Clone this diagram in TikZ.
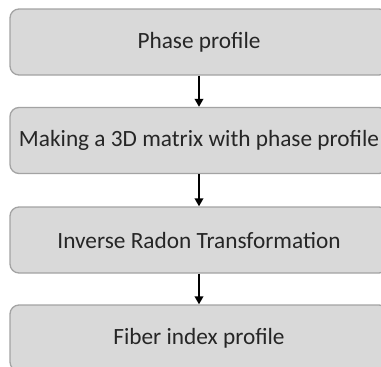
\documentclass[tikz,border=0pt]{standalone}
\usepackage{fontspec}
\setmainfont{Carlito}
\usetikzlibrary{arrows.meta}
\definecolor{boxfill}{HTML}{D9D9D9}
\definecolor{boxline}{HTML}{A3A3A3}
\definecolor{txt}{HTML}{262626}
\tikzset{
  stagebox/.style={draw=boxline, line width=1.3pt, fill=boxfill, rounded corners=9pt,
    minimum width=378pt, minimum height=66pt, inner sep=0pt, text=txt,
    font=\fontsize{23.3pt}{26pt}\selectfont},
  flowarrow/.style={line width=1.8pt, -{Triangle[length=8pt,width=8.5pt]}}
}
\begin{document}
\begin{tikzpicture}[x=1pt,y=1pt]
\useasboundingbox (0,0) rectangle (381,-367);
\clip (0,0) rectangle (381,-367);
\node[stagebox] (b1) at (199,-42) {Phase profile};
\node[stagebox] (b2) at (199,-140.5) {Making a 3D matrix with phase profile};
\node[stagebox] (b3) at (199,-240) {Inverse Radon Transformation};
\node[stagebox] (b4) at (199,-338) {Fiber index profile};
\draw[flowarrow] (b1.south) -- (b2.north);
\draw[flowarrow] (b2.south) -- (b3.north);
\draw[flowarrow] (b3.south) -- (b4.north);
\end{tikzpicture}
\end{document}
